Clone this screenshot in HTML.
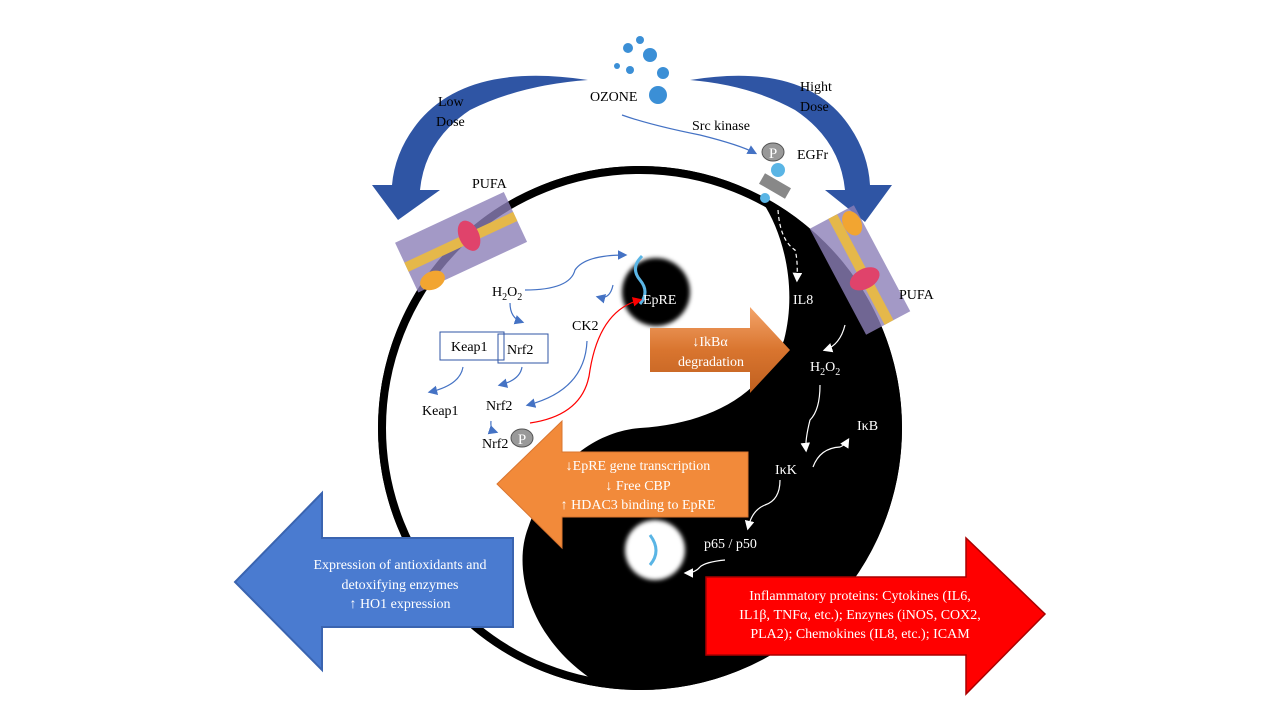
<!DOCTYPE html>
<html><head><style>
html,body{margin:0;background:#fff;width:1280px;height:720px;overflow:hidden;font-family:"Liberation Serif",serif}
svg{position:absolute;left:0;top:0;display:block}
text{font-family:"Liberation Serif",serif}
</style></head><body>
<svg width="1280" height="720" viewBox="0 0 1280 720">
<defs>
<filter id="bl"><feGaussianBlur stdDeviation="2"/></filter>
<marker id="ab" markerWidth="8" markerHeight="8" refX="6" refY="4" orient="auto"><path d="M0,0L8,4L0,8z" fill="#4472c4"/></marker>
<marker id="aw" markerWidth="8" markerHeight="8" refX="6" refY="4" orient="auto"><path d="M0,0L8,4L0,8z" fill="#fff"/></marker>
<marker id="ar" markerWidth="8" markerHeight="8" refX="6" refY="4" orient="auto"><path d="M0,0L8,4L0,8z" fill="#f00"/></marker>
<linearGradient id="og" x1="0" y1="0" x2="0" y2="1"><stop offset="0" stop-color="#f4a46a"/><stop offset="0.5" stop-color="#d9752f"/><stop offset="1" stop-color="#c0601f"/></linearGradient>
</defs>
<!-- yin yang -->
<circle cx="640" cy="428" r="262" fill="#000"/>
<path d="M762,201 A258,258 0 1 0 596,682 C530,640 512,570 528,528 C548,468 592,432 640,428 C705,424 762,398 784,340 C797,290 785,236 762,201 Z" fill="#fff"/>
<circle cx="640" cy="428" r="258" fill="none" stroke="#000" stroke-width="8"/>
<circle cx="656" cy="292" r="34" fill="#000" filter="url(#bl)"/>
<circle cx="655" cy="550" r="30" fill="#fff" filter="url(#bl)"/>
<!-- top blue arrows -->
<path d="M588,80 Q470,62 420,120 Q395,150 392,185 L372,185 L398,220 L440,190 L420,190 Q425,140 470,110 Q520,85 588,80 Z" fill="#2f55a4"/>
<path d="M690,80 Q800,62 845,120 Q868,150 870,185 L892,185 L865,222 L825,190 L845,190 Q840,140 795,110 Q750,85 690,80 Z" fill="#2f55a4"/>
<!-- ozone molecule -->
<g fill="#3b8fd6"><circle cx="658" cy="95" r="9"/><circle cx="650" cy="55" r="7"/><circle cx="628" cy="48" r="5"/><circle cx="663" cy="73" r="6"/><circle cx="630" cy="70" r="4"/><circle cx="617" cy="66" r="3"/><circle cx="640" cy="40" r="4"/></g>
<!-- membranes -->
<g transform="rotate(-25 460 240)"><rect x="400" y="215" width="120" height="55" fill="#8c7fb8" opacity="0.8"/><rect x="400" y="237" width="120" height="10" fill="#e5b84a"/><ellipse cx="470" cy="240" rx="10" ry="16" fill="#e0436b"/><ellipse cx="418" cy="265" rx="13" ry="9" fill="#f2a531"/></g>
<g transform="rotate(62 860 270)"><rect x="800" y="245" width="120" height="50" fill="#8c7fb8" opacity="0.8"/><rect x="800" y="264" width="120" height="10" fill="#e5b84a"/><ellipse cx="870" cy="270" rx="10" ry="16" fill="#e0436b"/><ellipse cx="815" cy="255" rx="13" ry="9" fill="#f2a531"/></g>
<!-- EGFr -->
<rect x="760" y="180" width="30" height="12" fill="#888" transform="rotate(30 775 186)"/>
<circle cx="778" cy="170" r="7" fill="#5ab5e5"/><circle cx="765" cy="198" r="5" fill="#5ab5e5"/>
<ellipse cx="773" cy="152" rx="11" ry="9" fill="#999" stroke="#555"/><text x="773" y="158" font-size="15" fill="#fff" text-anchor="middle">P</text>
<ellipse cx="522" cy="438" rx="11" ry="9" fill="#999" stroke="#555"/><text x="522" y="444" font-size="15" fill="#fff" text-anchor="middle">P</text>
<!-- DNA -->
<path d="M640,304 q10,-12 0,-24 q-10,-12 2,-24" stroke="#5ab5e5" stroke-width="3" fill="none"/>
<path d="M650,565 q12,-14 0,-30" stroke="#5ab5e5" stroke-width="3" fill="none"/>
<!-- labels -->
<g font-size="14" fill="#000">
<text x="438" y="106">Low</text><text x="436" y="126">Dose</text>
<text x="800" y="91">Hight</text><text x="800" y="111">Dose</text>
<text x="590" y="101">OZONE</text>
<text x="692" y="130">Src kinase</text>
<text x="797" y="159">EGFr</text>
<text x="472" y="188">PUFA</text>
<text x="492" y="296">H<tspan font-size="10" dy="4">2</tspan><tspan dy="-4">O</tspan><tspan font-size="10" dy="4">2</tspan></text>
<text x="572" y="330">CK2</text>
<text x="451" y="351">Keap1</text><text x="507" y="354">Nrf2</text>
<text x="422" y="415">Keap1</text><text x="486" y="410">Nrf2</text>
<text x="482" y="448">Nrf2</text>
</g>
<rect x="440" y="332" width="64" height="28" fill="none" stroke="#2f55a4"/>
<rect x="498" y="334" width="50" height="29" fill="none" stroke="#2f55a4"/>
<g font-size="14" fill="#fff">
<text x="643" y="304">EpRE</text>
<text x="793" y="304">IL8</text>
<text x="810" y="371">H<tspan font-size="10" dy="4">2</tspan><tspan dy="-4">O</tspan><tspan font-size="10" dy="4">2</tspan></text>
<text x="857" y="430">IκB</text>
<text x="775" y="474">IκK</text>
<text x="704" y="548">p65 / p50</text>
</g>
<text x="899" y="299" font-size="14">PUFA</text>
<!-- blue connectors -->
<g fill="none" stroke="#4472c4" stroke-width="1.2" marker-end="url(#ab)">
<path d="M622,115 Q650,125 700,135 Q740,145 755,153"/>
<path d="M525,290 Q570,290 575,270 Q585,255 625,255"/>
<path d="M613,285 Q610,300 598,297"/>
<path d="M510,303 Q510,318 522,322"/>
<path d="M463,367 Q460,385 430,392"/>
<path d="M522,367 Q520,380 500,385"/>
<path d="M587,341 Q585,390 528,405"/>
<path d="M491,421 Q490,430 496,432"/>
</g>
<path d="M530,423 Q585,415 590,370 Q600,310 640,300" fill="none" stroke="#f00" stroke-width="1.2" marker-end="url(#ar)"/>
<g fill="none" stroke="#fff" stroke-width="1.2" marker-end="url(#aw)">
<path d="M778,210 Q780,240 795,250 Q798,260 797,280" stroke-dasharray="4,3"/>
<path d="M845,325 Q840,345 825,350"/>
<path d="M820,385 Q820,410 810,420 Q805,440 806,450"/>
<path d="M813,467 Q820,448 840,447 Q845,445 848,440"/>
<path d="M780,480 Q780,500 765,505 Q752,510 748,528"/>
<path d="M725,560 Q705,562 700,567 Q695,573 686,573"/>
</g>
<!-- orange arrows -->
<path d="M650,328 L750,328 L750,307 L790,350 L750,393 L750,372 L650,372 Z" fill="url(#og)"/>
<text x="710" y="346" font-size="14" fill="#fff" text-anchor="middle">↓IkBα</text>
<text x="711" y="366" font-size="14" fill="#fff" text-anchor="middle">degradation</text>
<path d="M748,452 L562,452 L562,421 L497,484 L562,548 L562,517 L748,517 Z" fill="#f28a3a" stroke="#d9752f"/>
<g font-size="14" fill="#fff" text-anchor="middle">
<text x="638" y="470">↓EpRE gene transcription</text>
<text x="638" y="490">↓ Free CBP</text>
<text x="638" y="509">↑ HDAC3 binding to EpRE</text>
</g>
<!-- blue big arrow -->
<path d="M513,538 L322,538 L322,493 L235,582 L322,670 L322,627 L513,627 Z" fill="#4a7bd0" stroke="#3a64b0" stroke-width="2"/>
<g font-size="14" fill="#fff" text-anchor="middle">
<text x="400" y="569">Expression of antioxidants and</text>
<text x="400" y="589">detoxifying enzymes</text>
<text x="400" y="608">↑ HO1 expression</text>
</g>
<!-- red big arrow -->
<path d="M706,577 L966,577 L966,538 L1045,614 L966,694 L966,655 L706,655 Z" fill="#f00" stroke="#a00" stroke-width="1.5"/>
<g font-size="14" fill="#fff" text-anchor="middle">
<text x="860" y="600">Inflammatory proteins: Cytokines (IL6,</text>
<text x="860" y="619">IL1β, TNFα, etc.); Enzynes (iNOS, COX2,</text>
<text x="860" y="638">PLA2); Chemokines (IL8, etc.); ICAM</text>
</g>
</svg>
</body></html>
